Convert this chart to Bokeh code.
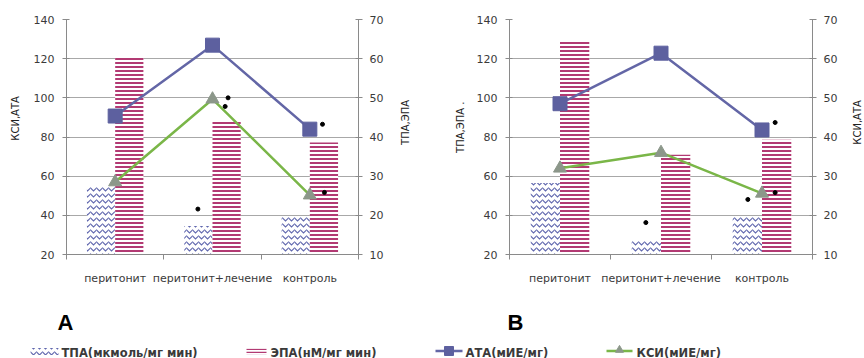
import math
from bokeh.plotting import figure
from bokeh.models import Range1d, LinearAxis, FixedTicker, ColumnDataSource
from bokeh.layouts import row, column
from bokeh.transform import dodge
from bokeh.embed import file_html
from bokeh.resources import INLINE
from bokeh.core.properties import value

# ---------------- data ----------------
categories = ["перитонит", "перитонит+лечение", "контроль"]

# Panel A: bars on the right axis (ТПА,ЭПА 10-70), lines on the left axis (КСИ,АТА 20-140)
tpa_a = [27.5, 17.3, 19.7]
epa_a = [60.2, 43.8, 38.6]
ata_a = [90.7, 126.9, 84.0]
ksi_a = [57.0, 99.3, 50.3]

# Panel B: bars on the left axis (ТПА,ЭПА 20-140), lines on the right axis (КСИ,АТА 10-70)
tpa_b = [56.5, 27.4, 39.4]
epa_b = [128.8, 71.0, 78.6]
ata_b = [48.5, 61.4, 41.8]
ksi_b = [32.0, 36.0, 25.6]

left_ticks = [20, 40, 60, 80, 100, 120, 140]
right_ticks = [10, 20, 30, 40, 50, 60, 70]

# significance marks (category index, shift inside category, value on left axis)
sig_a_cat = [1, 1, 1, 2, 2]
sig_a_shift = [0.16, 0.13, -0.15, 0.13, 0.15]
sig_a_val = [100.0, 95.6, 43.2, 86.5, 51.7]
sig_b_cat = [1, 2, 2, 2]
sig_b_shift = [-0.15, -0.14, 0.13, 0.13]
sig_b_val = [36.3, 48.1, 51.6, 87.4]

axis_titles_a = ["КСИ,АТА", "ТПА,ЭПА"]
axis_titles_b = ["ТПА,ЭПА  .", "КСИ,АТА"]
legend_labels = ["ТПА(мкмоль/мг мин)", "ЭПА(нМ/мг мин)", "АТА(мИЕ/мг)", "КСИ(мИЕ/мг)"]
panel_letters = ["A", "B"]

# ---------------- styles ----------------
FONT = "DejaVu Sans"
C_TPA = "#6168ae"
C_EPA = "#b23a73"
C_ATA = "#6366a6"
C_ATA_M = "#5d609f"
C_KSI = "#7ab648"
C_KSI_M = "#8c978a"
C_AXIS = "#8a8a8a"
C_GRID = "#a8a8a8"
C_TXT = "#3a3a3a"
TOP_H = 290

centers = [i + 0.5 for i in range(len(categories))]
BAR_W = 0.29


def blank(width, height, x0, x1, y0, y1):
    f = figure(width=width, height=height, x_range=Range1d(x0, x1), y_range=Range1d(y0, y1),
               output_backend="svg", toolbar_location=None, min_border=0,
               x_axis_location=None, y_axis_location=None, outline_line_color=None,
               background_fill_color="white", border_fill_color="white")
    f.xgrid.visible = False
    f.ygrid.visible = False
    return f


def title_fig(width, text, cx, cy):
    # narrow strip whose coordinates equal its own pixels (y downward)
    f = blank(width, TOP_H, 0, width, TOP_H, 0)
    f.text(x=[cx], y=[cy], text=[text], angle=math.pi / 2, text_font=value(FONT),
           text_font_size="10px", text_color="#222222", text_align="center",
           text_baseline="middle")
    return f


def style_y(ax, ticks, standoff_lbl):
    ax.ticker = FixedTicker(ticks=ticks)
    ax.axis_line_color = C_AXIS
    ax.major_tick_line_color = C_AXIS
    ax.minor_tick_line_color = None
    ax.major_tick_in = 3
    ax.major_tick_out = 4
    ax.major_label_text_font = FONT
    ax.major_label_text_font_size = "11px"
    ax.major_label_text_color = C_TXT
    ax.major_label_standoff = standoff_lbl


def make_panel(width, mbl, mbr, mbt, mbb, tpa, epa, ata, ksi, bars_right,
               sig_cat, sig_shift, sig_val):
    p = figure(width=width, height=TOP_H, x_range=Range1d(0, 3), y_range=Range1d(20, 140),
               output_backend="svg", toolbar_location=None,
               min_border_left=mbl, min_border_right=mbr,
               min_border_top=mbt, min_border_bottom=mbb,
               outline_line_color=None, background_fill_color="white",
               border_fill_color="white")
    p.extra_y_ranges = {"r": Range1d(10, 70)}

    bar_rng = "r" if bars_right else "default"
    line_rng = "default" if bars_right else "r"
    base = 10 if bars_right else 20

    src = ColumnDataSource(dict(x=centers, tpa=tpa, epa=epa, ata=ata, ksi=ksi,
                                base=[base] * len(centers)))

    p.vbar(x=dodge("x", -BAR_W / 2, range=p.x_range), top="tpa", bottom="base", width=BAR_W,
           source=src, y_range_name=bar_rng, fill_color="white", line_color=None,
           hatch_pattern="horizontal_wave", hatch_color=C_TPA, hatch_scale=6, hatch_weight=1.1)
    p.vbar(x=dodge("x", BAR_W / 2, range=p.x_range), top="epa", bottom="base", width=BAR_W,
           source=src, y_range_name=bar_rng, fill_color="white", line_color=None,
           hatch_pattern="horizontal_line", hatch_color=C_EPA, hatch_scale=4, hatch_weight=2)

    p.line("x", "ata", source=src, y_range_name=line_rng, line_color=C_ATA, line_width=2.5)
    p.scatter("x", "ata", source=src, y_range_name=line_rng, marker="square", size=14,
              fill_color=C_ATA_M, line_color=C_ATA_M)
    p.line("x", "ksi", source=src, y_range_name=line_rng, line_color=C_KSI, line_width=2.5)
    p.scatter("x", "ksi", source=src, y_range_name=line_rng, marker="triangle", size=13,
              fill_color=C_KSI_M, line_color=C_KSI_M)

    sx = [centers[c] + s for c, s in zip(sig_cat, sig_shift)]
    p.scatter(sx, sig_val, marker="circle", size=4, fill_color="black", line_color="black")

    # axes
    style_y(p.yaxis[0], left_ticks, 8)
    rax = LinearAxis(y_range_name="r")
    style_y(rax, right_ticks, 7)
    p.add_layout(rax, "right")

    xa = p.xaxis[0]
    xa.ticker = FixedTicker(ticks=centers, minor_ticks=[0, 1, 2, 3])
    xa.major_label_overrides = {c: name for c, name in zip(centers, categories)}
    xa.axis_line_color = C_AXIS
    xa.major_tick_line_color = None
    xa.major_tick_in = 0
    xa.major_tick_out = 0
    xa.minor_tick_line_color = C_AXIS
    xa.minor_tick_in = 0
    xa.minor_tick_out = 5
    xa.major_label_text_font = FONT
    xa.major_label_text_font_size = "11px"
    xa.major_label_text_color = C_TXT
    xa.major_label_standoff = 12

    p.xgrid.visible = False
    p.ygrid.ticker = FixedTicker(ticks=left_ticks)
    p.ygrid.grid_line_color = C_GRID
    p.ygrid.grid_line_width = 1
    return p


# page columns: tA_l 0-30 | A 30-395 | tA_r 395-415 | tB_l 415-470 | B 470-850 | tB_r 850-864
t_al = title_fig(30, axis_titles_a[0], 15, 122)
pa = make_panel(365, 35, 37, 17, 35, tpa_a, epa_a, ata_a, ksi_a, True,
                sig_a_cat, sig_a_shift, sig_a_val)
t_ar = title_fig(20, axis_titles_a[1], 10, 127)
t_bl = title_fig(55, axis_titles_b[0], 45, 131)
pb = make_panel(380, 39, 38, 19, 36, tpa_b, epa_b, ata_b, ksi_b, False,
                sig_b_cat, sig_b_shift, sig_b_val)
t_br = title_fig(14, axis_titles_b[1], 7, 127)

# ---------------- legend strip (page coordinates) ----------------
lg = blank(864, 68, 0, 864, 358, 290)

lg.text(x=[65, 515], y=[322, 322], text=panel_letters, text_font=value("Liberation Sans"),
        text_font_size="22px", text_font_style="bold", text_color="black",
        text_align="center", text_baseline="middle")

# icons
lg.rect(x=[44], y=[351], width=28, height=7, fill_color="white", line_color=None,
        hatch_pattern="horizontal_wave", hatch_color=C_TPA, hatch_scale=6, hatch_weight=1.1)
lg.rect(x=[256], y=[351], width=20, height=6, fill_color="white", line_color=None,
        hatch_pattern="horizontal_line", hatch_color=C_EPA, hatch_scale=3, hatch_weight=1.5)
lg.line(x=[435, 462], y=[350.5, 350.5], line_color=C_ATA, line_width=2.5)
lg.scatter(x=[448.5], y=[350.5], marker="square", size=9, fill_color=C_ATA_M, line_color=C_ATA_M)
lg.line(x=[606, 632], y=[350.5, 350.5], line_color=C_KSI, line_width=2.5)
lg.scatter(x=[619], y=[349.5], marker="triangle", size=8, fill_color=C_KSI_M, line_color=C_KSI_M)

lg.text(x=[61, 270, 465, 636], y=[352] * 4, text=legend_labels, text_font=value(FONT),
        text_font_size="11.5px", text_font_style="bold", text_color=C_TXT,
        text_align="left", text_baseline="middle")

layout = column(row(t_al, pa, t_ar, t_bl, pb, t_br), lg)

open("out.html", "w").write(file_html(layout, INLINE))
